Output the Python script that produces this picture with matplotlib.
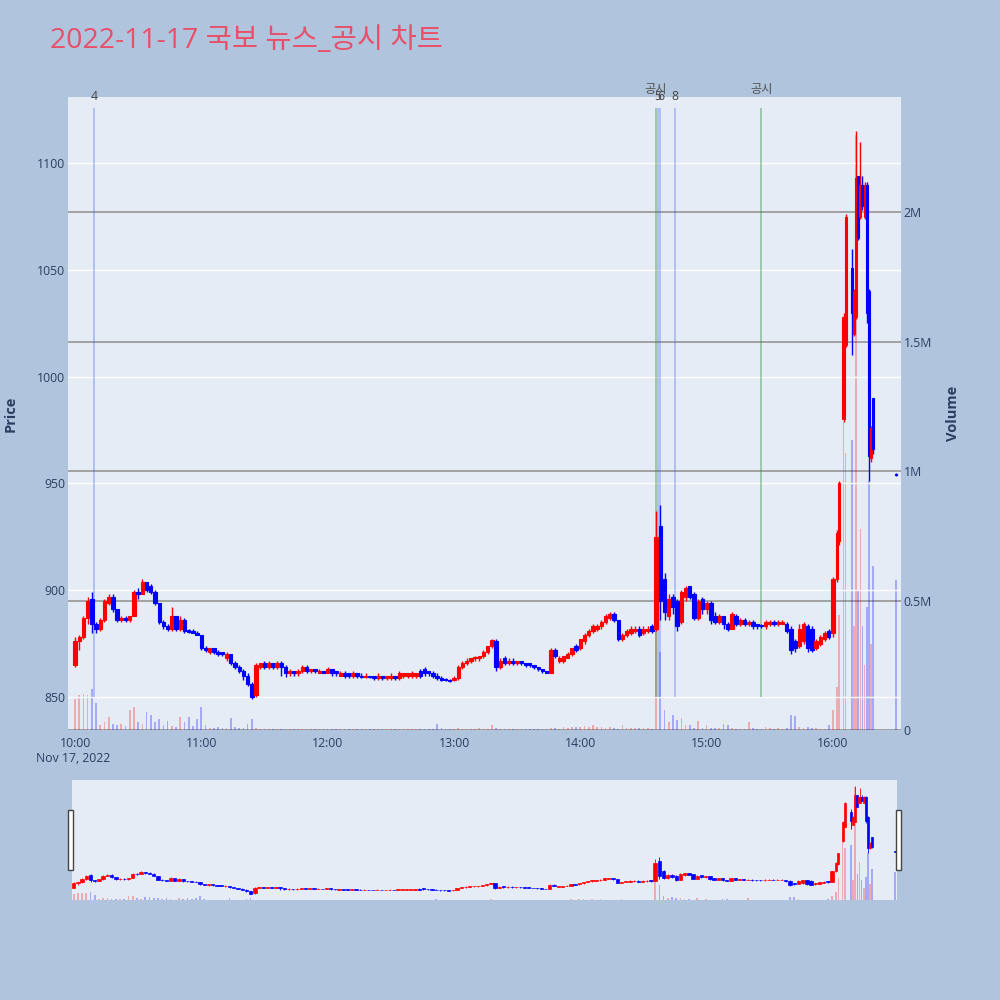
import matplotlib
matplotlib.use("Agg")
import matplotlib.pyplot as plt
import matplotlib.transforms as mtransforms
from matplotlib.patches import Rectangle
import numpy as np

plt.rcParams['font.family'] = ['Open Sans', 'Noto Sans CJK KR', 'DejaVu Sans']

# ---------------- data ----------------
times = [
    "10:00","10:02","10:04","10:06","10:08","10:10","10:12","10:14","10:16","10:18",
    "10:20","10:22","10:24","10:26","10:28","10:30","10:32","10:34","10:36","10:38",
    "10:40","10:42","10:44","10:46","10:48","10:50","10:52","10:54","10:56","10:58",
    "11:00","11:02","11:04","11:06","11:08","11:10","11:12","11:14","11:16","11:18",
    "11:20","11:22","11:24","11:26","11:28","11:30","11:32","11:34","11:36","11:38",
    "11:40","11:42","11:44","11:46","11:48","11:50","11:52","11:54","11:56","11:58",
    "12:00","12:02","12:04","12:06","12:08","12:10","12:12","12:14","12:16","12:18",
    "12:20","12:22","12:24","12:26","12:28","12:30","12:32","12:34","12:36","12:38",
    "12:40","12:42","12:44","12:46","12:48","12:50","12:52","12:54","12:56","12:58",
    "13:00","13:02","13:04","13:06","13:08","13:10","13:12","13:14","13:16","13:18",
    "13:20","13:22","13:24","13:26","13:28","13:30","13:32","13:34","13:36","13:38",
    "13:40","13:42","13:44","13:46","13:48","13:50","13:52","13:54","13:56","13:58",
    "14:00","14:02","14:04","14:06","14:08","14:10","14:12","14:14","14:16","14:18",
    "14:20","14:22","14:24","14:26","14:28","14:30","14:32","14:34","14:36","14:38",
    "14:40","14:42","14:44","14:46","14:48","14:50","14:52","14:54","14:56","14:58",
    "15:00","15:02","15:04","15:06","15:08","15:10","15:12","15:14","15:16","15:18",
    "15:20","15:22","15:24","15:26","15:28","15:30","15:32","15:34","15:36","15:38",
    "15:40","15:42","15:44","15:46","15:48","15:50","15:52","15:54","15:56","15:58",
    "16:00","16:02","16:03","16:05","16:06","16:09","16:10","16:11","16:12","16:13",
    "16:14","16:15","16:16","16:17","16:18","16:19","16:30",
]
opens = [
    865,876,878,887,896,884,882,886,894,897,
    891,886,887,886,888,899,898,904,902,899,
    894,885,883,882,888,882,886,881.5,881,880,
    879,873,871,873,871,871,868,870,866,864,
    862,860,856,851,864,866,864,866,864,866,
    864,861,862,861,862,864,862,863,861,862,
    861,863,862,860,861,861,860,861,860,859.5,
    860,860,859,860,859,859,860,859,860,860,
    860,860,862,863,862,861,860,859,858.5,858,
    858,859,864,866,867,868,868,869,871,874,
    876,864,868,866,867,866,867,866,866,865,
    864,863,862,861,872,867,867,868,870,874,
    873,876,879,881,882,883,885,887,889,886,
    877,879,880,881,882,880,881,883,882,930,
    905,888,897,895,885,897,902,898,887,896,
    891,894,888,885,888,884,882,888,884,886,
    884,885,884,883.5,883,884,885,884,884,884,
    882,876,874,876,883,882,873,875,877,881,
    880,905,923,980,1015,1051,1020,1028,1094,1075,
    1090,1075,1090,1040,962,990,954.5,
]
highs = [
    878,879,888,897,899,885,887,896,898,898,
    891,888,888,888,900,901,905,904,903,900,
    894,886,884,892,888,888,887,882,882,881,
    879,874,873,873,872,871,871,870,867,865,
    863,861,857,866,866,867,867,866,867,867,
    865,863,862,863,865,865,863,863,863,862,
    864,863,862,862,862,861,862,861,861,861,
    860,860,861,860,860,861,860,862,861,861,
    862,861,863,864,862,862,861,860,859,858.5,
    860,865,867,868,868,869,869,872,874,877,
    877,868,869,868,868,867,867,866,866,865,
    864,863,862,873,873,869,869,871,873,875,
    877,880,882,884,884,886,889,890,890,886,
    880,882,883,883,883,883,883,884,937,940,
    908,898,898,896,900,902,902,899,896,897,
    895,895,890,889,888,885,890,889,887,887,
    886,886,884,884,886,886,886,886,886,885,
    883,877,884,885,884,883,877,879,881,882,
    906,928,951,1030,1076,1060,1041,1115,1094,1110,
    1094,1091,1091,1041,977,990,955,
]
lows = [
    864,872,877,884,880,880,881,885,893,890,
    885,885,885,885,888,896,898,899,898,893,
    884,882,881,881,881,881,880,880,880,879,
    872,871,870,870,869,869,867,865,863,861,
    858,855,849,850,863,863,863,863,863,860,
    859.5,860,860,860,861,861,861,861,861,861,
    861,860,860,860,859,859,859,859,859,859,
    859,858,858,858,858,858,858,858,859,859,
    859,859,859,860,860,859,858,857.5,857.5,857,
    857.5,858,863,865,866,867,867,868,870,873,
    862,863,865,865,865,865,865,864,864,863,
    862,861,861,861,868,866,866,868,869,871,
    872,875,878,880,881,882,884,886,885,876,
    876,878,879,880,878,879,880,880,881,886,
    886,886,889,881,884,895,896,886,886,889,
    889,884,884,884,882,881,882,883,883,883,
    883,882,882,882.5,882,883,883,883,884,880,
    870,871,873,875,871,871,872,874,876,877,
    878,904,921,979,1014,1010,1019,1027,1064,1074,
    1078,1074,1025,951,960,964,953.5,
]
closes = [
    876,878,887,895,884,882,886,895,897,891,
    886,887,886,888,899,898,904,900,899,894,
    885,883,882,888,882,886,881,880.5,880,879,
    873,872,873,871,870,870,870,866,864,862,
    860,856,850,865,866,864,866,864,866,864,
    861,862,861,862,864,862,863,862,862,861,
    863,861,861,861,860,860,861,860,859.5,860,
    859.5,859,860,859,860,860,859,861,861,861,
    861,861,860,861,861,860,859,858,858,857.5,
    859,864,866,867,868,868.5,869,871,874,876.5,
    864,867,866,867,866,867,866,865,865,864,
    863,862,861,872,869,868,869,870,873,872,
    877,879,881,883,883,885,888,889,886,877,
    879,881,882,882,879,882,882,881,925,895,
    890,896,892,883,899,901,897,887,895,891,
    894,886,885,888,884,882,889,884,886,884,
    885,883,883,883,885,885,884,885,885,881,
    872,873,882,884,873,872,876,878,880,878,
    905,927,950,1028,1075,1030,1040,1093,1065,1090,
    1080,1090,1030,963,976,966,954,
]
volumes_k = [
    120,137,141,134,160,106,20,31,50,25,
    20,25,15,76,89,31,25,70,57,31,
    44,20,34,15,10,50,30,50,15,44,
    89,20,8,8,10,6,6,47,10,8,
    6,25,41,8,5,5,4,4,3,4,
    5,3,3,3,4,3,3,3,3,3,
    3,3,3,3,3,3,3,3,3,3,
    3,3,3,3,3,3,3,3,3,3,
    3,3,3,3,3,3,25,6,3,3,
    3,6,3,3,3,3,6,3,5,18,
    6,4,3,3,3,3,3,3,5,3,
    3,3,5,8,6,5,10,8,12,10,
    12,14,10,18,10,12,8,10,8,5,
    20,8,8,6,6,8,6,4,400,300,
    77,31,57,38,47,20,18,8,34,6,
    21,8,8,8,25,18,6,5,5,5,
    31,6,4,5,10,8,4,6,4,8,
    57,53,12,6,10,8,6,5,5,21,
    79,166,443,1190,1070,1120,403,2300,537,775,
    403,253,474,964,332,632,578,
]

marker_times = ["10:09", "14:36", "14:37", "14:38", "14:45", "15:26"]
marker_labels = ["4", "공시", "5", "6", "8", "공시"]
marker_kinds = ["news", "disclosure", "news", "news", "news", "disclosure"]
marker_price_span = (850, 1126)

price_ticks = [850, 900, 950, 1000, 1050, 1100]
volume_ticks = [0, 0.5e6, 1e6, 1.5e6, 2e6]
volume_tick_labels = ["0", "0.5M", "1M", "1.5M", "2M"]
hour_ticks = ["10:00", "11:00", "12:00", "13:00", "14:00", "15:00", "16:00"]

title = "2022-11-17 국보 뉴스_공시 차트"

# ---------------- helpers ----------------
def to_min(s):
    hh, mm = s.split(":")
    return (int(hh) - 10) * 60 + int(mm)

t = np.array([to_min(s) for s in times], dtype=float)
o = np.array(opens, float); h = np.array(highs, float)
l = np.array(lows, float); c = np.array(closes, float)
v = np.array(volumes_k, float) * 1000
up = c >= o
col = np.where(up, "#ff0000", "#0000ff")

gaps = np.diff(t)
prev_gap = np.concatenate([[gaps[0]], gaps])
next_gap = np.concatenate([gaps, [1.0]])
spacing = np.minimum(prev_gap, next_gap)
w = np.where(spacing >= 2, 1.6, 1.0)

BG = "#b0c4de"
PLOT_BG = "#e5ecf6"
TXT = "#2a3f5f"
FS = 8.8

P_LIM = (834.5, 1131)
V_LIM = (0, 2.446e6)
X_LIM = (-3.32, 392.3)

fig = plt.figure(figsize=(10, 10), dpi=100, facecolor=BG)

# ---------------- main chart ----------------
ax_v = fig.add_axes([0.068, 0.270, 0.833, 0.633])
ax_v.set_facecolor(PLOT_BG)
ax_p = ax_v.twinx()

for a in (ax_v, ax_p):
    for s in a.spines.values():
        s.set_visible(False)

ax_v.set_xlim(*X_LIM)
ax_v.set_ylim(*V_LIM)
ax_p.set_ylim(*P_LIM)

# volume axis (right)
ax_v.yaxis.tick_right()
ax_v.yaxis.set_label_position("right")
ax_v.set_yticks(volume_ticks)
ax_v.set_yticklabels(volume_tick_labels)
ax_v.tick_params(axis="y", length=0, pad=2, labelsize=FS, labelcolor=TXT)
ax_v.yaxis.grid(True, color="#9c9c9c", lw=1.3)
ax_v.set_axisbelow(True)
ax_v.set_ylabel("Volume", fontsize=10.5, fontweight="bold", color=TXT, labelpad=10)

# price axis (left)
ax_p.yaxis.tick_left()
ax_p.yaxis.set_label_position("left")
ax_p.set_yticks(price_ticks)
ax_p.tick_params(axis="y", length=0, pad=2, labelsize=FS, labelcolor=TXT)
ax_p.yaxis.grid(True, color="white", lw=1.0)
ax_p.set_axisbelow(True)
ax_p.set_ylabel("Price", fontsize=10.5, fontweight="bold", color=TXT, labelpad=14)

# x axis
hour_pos = [to_min(s) for s in hour_ticks]
ax_v.set_xticks(hour_pos)
ax_v.set_xticklabels(hour_ticks)
ax_v.tick_params(axis="x", length=0, pad=5, labelsize=FS, labelcolor=TXT)
ax_p.tick_params(axis="x", length=0)
fig.text(0.073, 1 - 0.758, "Nov 17, 2022", ha="center", va="center", fontsize=FS, color=TXT)

# volume bars
ax_v.bar(t, v, width=0.8, color=col, alpha=0.28, linewidth=0, zorder=2)

# marker lines
for mt, kind in zip(marker_times, marker_kinds):
    x = to_min(mt)
    if kind == "disclosure":
        ax_p.vlines(x, *marker_price_span, color="#2e8b3a", alpha=0.45, lw=1.2, zorder=1)
    else:
        ax_p.vlines(x, *marker_price_span, color="#3355ee", alpha=0.35, lw=1.2, zorder=1)

# candles
def draw_candles(ax, lw_wick, lw_edge):
    ax.vlines(t, l, h, colors=col, lw=lw_wick, zorder=3)
    body_lo = np.minimum(o, c)
    body_h = np.abs(c - o)
    ax.bar(t, body_h, width=w, bottom=body_lo, color=col, edgecolor=col,
           linewidth=lw_edge, zorder=4)

draw_candles(ax_p, 1.0, 0.8)

# marker labels
trans = mtransforms.blended_transform_factory(ax_p.transData, fig.transFigure)
for mt, lab, kind in zip(marker_times, marker_labels, marker_kinds):
    x = to_min(mt)
    if kind == "disclosure":
        ax_p.text(x, 1 - 0.090, lab, transform=trans, ha="center", va="center",
                  fontsize=FS, color="#555555", clip_on=False)
    else:
        ax_p.text(x, 1 - 0.097, lab, transform=trans, ha="center", va="center",
                  fontsize=FS, color="#444444", clip_on=False)

# ---------------- range slider ----------------
ax_sv = fig.add_axes([0.072, 0.100, 0.825, 0.120])
ax_sv.set_facecolor(PLOT_BG)
ax_sp = ax_sv.twinx()
for a in (ax_sv, ax_sp):
    for s in a.spines.values():
        s.set_visible(False)
    a.set_xticks([]); a.set_yticks([])
ax_sv.set_xlim(-0.8, 390.8)
ax_sv.set_ylim(*V_LIM)
ax_sp.set_ylim(*P_LIM)
ax_sv.bar(t, v, width=0.8, color=col, alpha=0.28, linewidth=0)
draw_candles(ax_sp, 0.6, 0.5)

for xc in (0.0705, 0.8985):
    fig.patches.append(Rectangle((xc - 0.0025, 1 - 0.870), 0.005, 0.060,
                                 transform=fig.transFigure, facecolor="white",
                                 edgecolor="#444444", lw=1.0, zorder=10))

# ---------------- title ----------------
fig.text(0.050, 1 - 0.041, title, ha="left", va="center", fontsize=20.5, color="#e8506a")

fig.savefig("out.png", dpi=100, facecolor=BG)
